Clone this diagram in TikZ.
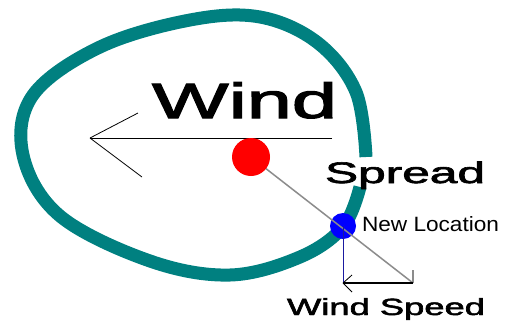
\documentclass[tikz,border=0pt]{standalone}
\usepackage{fontspec}
\setmainfont{Liberation Sans}
\newfontfamily\semibold[FakeBold=2]{Liberation Sans}
\definecolor{tealc}{HTML}{008080}
\definecolor{grayl}{HTML}{8C8C8C}
\definecolor{navyl}{HTML}{1A1AA0}
\begin{document}
\begin{tikzpicture}[x=1pt,y=-1pt,
  lbl/.style={anchor=base west,inner sep=0pt,outer sep=0pt},
  dot/.style={circle,inner sep=0pt,minimum size=#1,draw=none},
  thinl/.style={line width=0.8pt,black}]
\useasboundingbox (0,0) rectangle (511,322);
% teal loop
\draw[tealc,line width=13pt] plot[smooth,tension=0.6] coordinates {
 (360,187) (343,227) (300,257) (230,275) (150,261) (60,216)
 (23,155) (33,95) (100,47) (190,20) (260,17) (318,43) (356,92) (366,157)};
% coordinates
\coordinate (wtail) at (332,138);
\coordinate (whead) at (90,138);
\coordinate (wa1) at (138,113);
\coordinate (wa2) at (142,177);
\coordinate (tip) at (413,283);
\coordinate (tick) at (413,270);
\coordinate (foot) at (343,283);
\coordinate (fa1) at (352,275);
\coordinate (fa2) at (352,292);
% wind arrow
\draw[thinl] (wtail) -- (whead);
\draw[thinl] (whead) -- (wa1);
\draw[thinl] (whead) -- (wa2);
% dots
\node[dot=26pt,fill=blue] (blue) at (343,226) {};
\draw[grayl,line width=1.5pt] (251,157) -- (tip);
\draw[grayl,line width=1.2pt] (tip) -- (tick);
\node[dot=38pt,fill=red] (red) at (251,157) {};
% wind speed components
\draw[navyl,line width=1pt] (blue.center) -- (foot);
\draw[black,line width=1.5pt] (tip) -- (foot);
\draw[thinl] (foot) -- (fa1);
\draw[thinl] (foot) -- (fa2);
% labels
\node[lbl] (wind) at (152,118) {\resizebox{185pt}{36pt}{\semibold Wind}};
\node[lbl] (spread) at (325,183) {\resizebox{160pt}{21.5pt}{\semibold Spread}};
\node[lbl] (newloc) at (362,231) {\resizebox{137pt}{15pt}{New Location}};
\node[lbl] (wspeed) at (287,315) {\resizebox{198pt}{17pt}{\semibold Wind Speed}};
\end{tikzpicture}
\end{document}
